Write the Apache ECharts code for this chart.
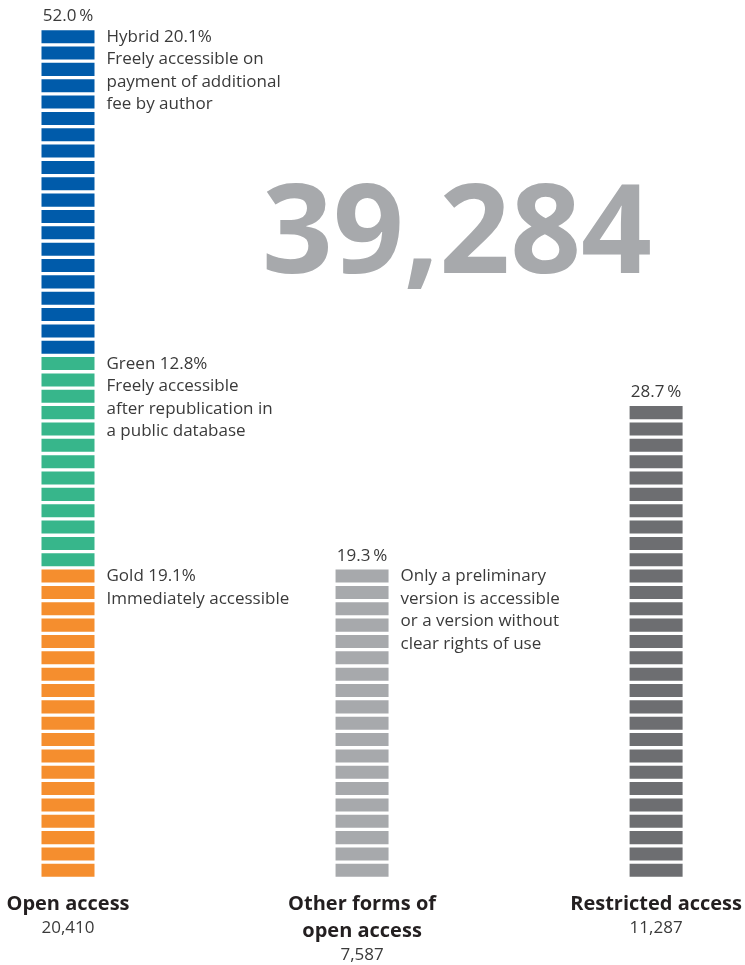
<!DOCTYPE html>
<html>
<head>
<meta charset="utf-8">
<title>Access to publications</title>
<script src="https://cdn.jsdelivr.net/npm/echarts@6/dist/echarts.min.js"></script>
<style>
  html, body { margin: 0; padding: 0; background: #fff; }
  #chart { width: 745px; height: 965px; }
</style>
</head>
<body>
<div id="chart"></div>
<script>
  // columns
  var categories = ['Open access', 'Other forms of\nopen access', 'Restricted access'];
  var counts = [20410, 7587, 11287];

  // stacked parts (percent of all publications), one stripe per percent
  var partNames = ['Gold', 'Green', 'Hybrid', 'Other', 'Restricted'];
  var partColumn = [0, 0, 0, 1, 2];
  var partShares = [19.1, 12.8, 20.1, 19.3, 28.7];
  var partNotes = [
    'Immediately accessible',
    'Freely accessible\nafter republication in\na public database',
    'Freely accessible on\npayment of additional\nfee by author',
    'Only a preliminary\nversion is accessible\nor a version without\nclear rights of use',
    ''
  ];

  var colors = ['#f58e2e', '#37b68b', '#005baa', '#a7a9ac', '#6d6e71'];
  var FONT = '"Open Sans", "Noto Sans", sans-serif';
  var TEXT = '#3a3a3a';

  // stack the parts of each column
  var cum = [0, 0, 0];
  var partsPerColumn = [0, 0, 0];
  var data = partShares.map(function (s, i) {
    var c = partColumn[i];
    var from = cum[c];
    cum[c] += s;
    partsPerColumn[c]++;
    return [c, Math.round(from), Math.round(cum[c]), i];
  });
  var yMax = Math.max.apply(null, cum.map(Math.round));
  var total = counts.reduce(function (a, b) { return a + b; }, 0);

  var chart = echarts.init(document.getElementById('chart'));

  function renderItem(params, api) {
    var col = api.value(0);
    var from = api.value(1);
    var to = api.value(2);
    var idx = api.value(3);
    var w = 53, gap = 3.3;
    var children = [];
    for (var k = from; k < to; k++) {
      var top = api.coord([col, k + 1]);
      var bottom = api.coord([col, k]);
      children.push({
        type: 'rect',
        shape: { x: top[0] - w / 2, y: top[1] + gap / 2, width: w, height: bottom[1] - top[1] - gap },
        style: { fill: colors[idx] }
      });
    }
    var head = api.coord([col, to]);
    var note = partNotes[idx];
    if (partsPerColumn[col] > 1) {
      note = partNames[idx] + ' ' + partShares[idx].toFixed(1) + '%' + (note ? '\n' + note : '');
    }
    if (note) {
      children.push({
        type: 'text',
        x: head[0] + w / 2 + 12,
        y: head[1] - 3,
        style: { text: note, fill: TEXT, font: '17px ' + FONT, lineHeight: 22.5, verticalAlign: 'top', align: 'left' }
      });
    }
    if (to === Math.round(cum[col])) {
      children.push({
        type: 'text',
        x: head[0],
        y: head[1] - 12,
        style: { text: cum[col].toFixed(1) + '\u2009%', fill: TEXT, font: '17px ' + FONT, align: 'center', verticalAlign: 'middle' }
      });
    }
    return { type: 'group', children: children };
  }

  var option = {
    backgroundColor: '#fff',
    animation: false,
    grid: { left: 68, right: 85, top: 28.5, bottom: 86.5 },
    xAxis: {
      type: 'category',
      boundaryGap: false,
      data: categories,
      axisLine: { show: false },
      axisTick: { show: false },
      splitLine: { show: false },
      axisLabel: {
        interval: 0,
        margin: 12,
        formatter: function (value, index) {
          return value.split('\n').map(function (l) { return '{b|' + l + '}'; }).join('\n') +
            '\n{n|' + counts[index].toLocaleString('en-US') + '}';
        },
        rich: {
          b: { fontFamily: FONT, fontWeight: 'bold', fontSize: 20, lineHeight: 27, color: '#231f20' },
          n: { fontFamily: FONT, fontSize: 17, lineHeight: 22, color: TEXT }
        }
      }
    },
    yAxis: { type: 'value', min: 0, max: yMax, show: false, splitLine: { show: false } },
    graphic: [{
      type: 'text',
      x: 457,
      y: 238,
      style: {
        text: total.toLocaleString('en-US'),
        fill: '#a7a9ac',
        font: 'bold 124px ' + FONT,
        align: 'center',
        verticalAlign: 'middle'
      }
    }],
    series: [{
      type: 'custom',
      clip: false,
      renderItem: renderItem,
      encode: { x: 0, y: [1, 2] },
      data: data
    }]
  };

  chart.setOption(option);
</script>
</body>
</html>
